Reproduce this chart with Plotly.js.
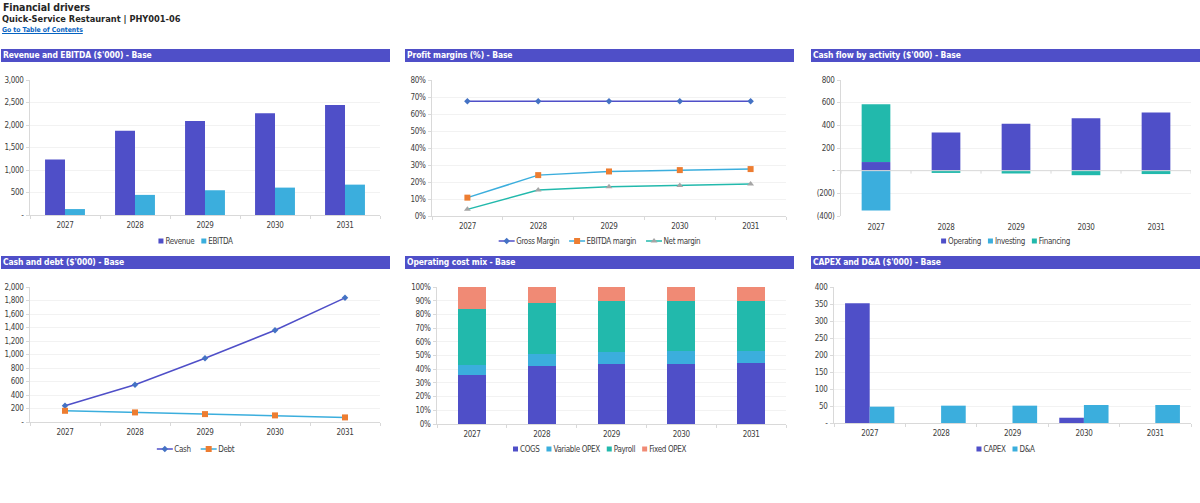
<!DOCTYPE html>
<html><head><meta charset="utf-8">
<script src="https://cdn.plot.ly/plotly-3.0.1.min.js"></script>
<style>
html,body{margin:0;padding:0;background:#fff;overflow:hidden;width:1200px;height:503px;font-family:"DejaVu Sans Condensed","DejaVu Sans",sans-serif;}
.h{position:absolute;color:#262626;white-space:nowrap;}
.band{position:absolute;background:#4F4FC8;color:#fff;font-weight:bold;font-size:8.5px;letter-spacing:-.12px;height:13px;line-height:13px;padding-left:2px;box-sizing:border-box;white-space:nowrap;}
.c{position:absolute;}
.c svg text{letter-spacing:-.35px;}
</style></head><body>
<div class="h" style="left:3px;top:0px;font-size:10.5px;font-weight:bold;line-height:14px;letter-spacing:-.1px;">Financial drivers</div>
<div class="h" style="left:2px;top:13px;font-size:9.2px;font-weight:bold;line-height:12px;">Quick-Service Restaurant | PHY001-06</div>
<a class="h" href="#" style="left:2px;top:25.5px;font-size:6.8px;font-weight:bold;line-height:9px;color:#0563C1;text-decoration:underline;">Go to Table of Contents</a>
<div id="root"></div>
<script>
const years = ['2027','2028','2029','2030','2031'];
const revenue = [1232,1870,2090,2259,2442];
const ebitda = [132,447,550,609,675];
const grossMargin = [0.675,0.675,0.675,0.675,0.675];
const ebitdaMargin = [0.108,0.2405,0.262,0.27,0.276];
const netMargin = [0.039,0.153,0.172,0.18,0.188];
const operating = [76,337,413,463,513];
const investing = [-352,0,0,0,0];
const financing = [511,-20,-25,-40,-30];
const cash = [240,553,944,1359,1839];
const debt = [166,142,117,98,68];
const cogs = [0.36,0.425,0.437,0.441,0.445];
const varOpex = [0.073,0.085,0.088,0.089,0.09];
const payroll = [0.407,0.375,0.37,0.368,0.365];
const fixedOpex = [0.16,0.115,0.105,0.102,0.10];
const capex = [352,0,0,15.5,0];
const da = [48,51,51,53,53];
const ticks1 = [0,500,1000,1500,2000,2500,3000];
const ticks1Text = ['-','500','1,000','1,500','2,000','2,500','3,000'];
const ticks2 = [0,.1,.2,.3,.4,.5,.6,.7,.8];
const ticks2Text = ['0%','10%','20%','30%','40%','50%','60%','70%','80%'];
const ticks3 = [-400,-200,0,200,400,600,800];
const ticks3Text = ['(400)','(200)','-','200','400','600','800'];
const ticks4 = [0,200,400,600,800,1000,1200,1400,1600,1800,2000];
const ticks4Text = ['-','200','400','600','800','1,000','1,200','1,400','1,600','1,800','2,000'];
const ticks5 = [0,.1,.2,.3,.4,.5,.6,.7,.8,.9,1];
const ticks5Text = ['0%','10%','20%','30%','40%','50%','60%','70%','80%','90%','100%'];
const ticks6 = [0,50,100,150,200,250,300,350,400];
const ticks6Text = ['-','50','100','150','200','250','300','350','400'];

const INDIGO='#4F4FC8', BLUE='#3BAEDD', TEAL='#22B9AC', SALMON='#F08A75', ORANGE='#ED7D31', GRAY='#A5A5A5', MARK='#4472C4';
const FONT='"DejaVu Sans Condensed", "DejaVu Sans", sans-serif';
const TEXT='#404040', AXIS='#D9D9D9', FS=8;

function bar(name,y,color){return {type:'bar',name,x:years,y,marker:{color,line:{width:0}}};}
function line(name,y,color,mc,sym,size){return {type:'scatter',mode:'lines+markers',name,x:years,y,line:{color,width:1.5},marker:{color:mc,symbol:sym,size}};}

const panels = [
 {band:"Revenue and EBITDA ($'000) - Base",bx:1,by:49,px:30,pr:380,pt:80,pb:216,
  range:[0,3000],tv:ticks1,tt:ticks1Text,mode:'group',gap:.43,
  traces:[bar('Revenue',revenue,INDIGO),bar('EBITDA',ebitda,BLUE)]},
 {band:"Profit margins (%) - Base",bx:405,by:49,px:432,pr:786,pt:80,pb:216,isLine:true,
  range:[0,.8],tv:ticks2,tt:ticks2Text,
  traces:[line('Gross Margin',grossMargin,INDIGO,MARK,'diamond',5),line('EBITDA margin',ebitdaMargin,BLUE,ORANGE,'square',6),line('Net margin',netMargin,TEAL,GRAY,'triangle-up',6)]},
 {band:"Cash flow by activity ($'000) - Base",bx:811,by:49,px:841,pr:1191,pt:80,pb:216,
  range:[-400,800],tv:ticks3,tt:ticks3Text,mode:'relative',gap:.59,
  traces:[bar('Operating',operating,INDIGO),bar('Investing',investing,BLUE),bar('Financing',financing,TEAL)]},
 {band:"Cash and debt ($'000) - Base",bx:1,by:256,px:30,pr:380,pt:287,pb:424,isLine:true,
  range:[0,2000],tv:ticks4,tt:ticks4Text,
  traces:[line('Cash',cash,INDIGO,MARK,'diamond',5),line('Debt',debt,BLUE,ORANGE,'square',6)]},
 {band:"Operating cost mix - Base",bx:405,by:256,px:437,pr:786,pt:287,pb:424,
  range:[0,1],tv:ticks5,tt:ticks5Text,mode:'stack',gap:.6,
  traces:[bar('COGS',cogs,INDIGO),bar('Variable OPEX',varOpex,BLUE),bar('Payroll',payroll,TEAL),bar('Fixed OPEX',fixedOpex,SALMON)]},
 {band:"CAPEX and D&A ($'000) - Base",bx:811,by:256,px:834,pr:1191,pt:287,pb:424,
  range:[0,400],tv:ticks6,tt:ticks6Text,mode:'group',gap:.31,
  traces:[bar('CAPEX',capex,INDIGO),bar('D&A',da,BLUE)]}
];

// Compact the native legend entries to the small keys of the reference
function tuneLegend(d,p,W,top){
  const lg=d.querySelector('.legend'); if(!lg) return;
  const sb=lg.querySelector('.scrollbox'); if(sb){sb.setAttribute('transform','');sb.removeAttribute('clip-path');}
  const bg=lg.querySelector('.bg'); if(bg) bg.style.display='none';
  const symW=p.isLine?16:5, pad=p.isLine?1.5:2, sep=p.isLine?10:7;
  let x=0;
  lg.querySelectorAll('.traces').forEach(t=>{
    t.setAttribute('transform',`translate(${x},0)`);
    const l=t.querySelector('.legendlines path'); if(l){l.setAttribute('d',`M0,0h${symW}`);}
    const m=t.querySelector('.legendsymbols .scatterpts'); if(m){m.setAttribute('transform',`translate(${symW/2},0)`);}
    t.querySelectorAll('.legendpoints path').forEach(q=>{ if(!q.classList.contains('scatterpts')) {q.setAttribute('d','M2.5,2.5H-2.5V-2.5H2.5Z');q.setAttribute('transform',`translate(${symW/2},0)`);q.style.strokeWidth='0';}});
    const tx=t.querySelector('.legendtext'); tx.setAttribute('x',symW+pad); tx.setAttribute('y',3);
    x+=symW+pad+tx.getComputedTextLength()+sep;
  });
  const total=x-sep;
  lg.setAttribute('transform',`translate(${(W-total)/2},${p.pb+25-top})`);
}

const root=document.getElementById('root');
panels.forEach((p)=>{
  const W=389, H=201;
  const b=document.createElement('div'); b.className='band';
  b.style.cssText=`left:${p.bx}px;top:${p.by}px;width:${W}px;`; b.textContent=p.band; root.appendChild(b);
  const d=document.createElement('div'); d.className='c';
  const top=p.by+14;
  d.style.cssText=`left:${p.bx}px;top:${top}px;width:${W}px;height:${H}px;`; root.appendChild(d);
  const neg=p.range[0]<0;
  const span=p.range[1]-p.range[0];
  const shapes = neg ? [
      {type:'line',xref:'paper',x0:0,x1:1,yref:'y',y0:0,y1:0,line:{color:AXIS,width:1},layer:'above'},
      ...[0,1,2,3,4,5].map(i=>({type:'line',xref:'x',x0:i-.5,x1:i-.5,yref:'y',y0:0,y1:-span*0.022,line:{color:AXIS,width:1}}))
    ] : [];
  Plotly.newPlot(d,p.traces,{
    width:W,height:H,
    margin:{l:p.px-p.bx,r:p.bx+W-p.pr,t:p.pt-top,b:top+H-p.pb,pad:0},
    paper_bgcolor:'rgba(0,0,0,0)',plot_bgcolor:'rgba(0,0,0,0)',
    font:{family:FONT,size:FS,color:TEXT},
    barmode:p.mode||'group',bargap:p.gap===undefined?.2:p.gap,bargroupgap:0,
    showlegend:true,
    legend:{orientation:'h',x:0.5,xanchor:'center',y:-25/(p.pb-p.pt),yanchor:'middle',font:{size:FS,family:FONT,color:TEXT},bgcolor:'rgba(0,0,0,0)',itemwidth:30,traceorder:'normal'},
    xaxis:{type:'category',range:[-.5,4.5],showgrid:false,zeroline:false,showline:!neg,linecolor:AXIS,linewidth:1,
      ticks:neg?'':'outside',tickson:'boundaries',ticklen:3,tickcolor:AXIS,tickfont:{size:FS},ticklabelstandoff:neg?5:2,fixedrange:true},
    yaxis:{range:p.range,tickmode:'array',tickvals:p.tv,ticktext:p.tt,gridcolor:'#F2F2F2',gridwidth:1,zeroline:false,showline:true,linecolor:AXIS,linewidth:1,ticks:'outside',ticklen:3,tickcolor:AXIS,tickfont:{size:FS},ticklabelstandoff:1,fixedrange:true},
    shapes
  },{displayModeBar:false,staticPlot:true}).then(()=>tuneLegend(d,p,W,top));
});
</script>
</body></html>
